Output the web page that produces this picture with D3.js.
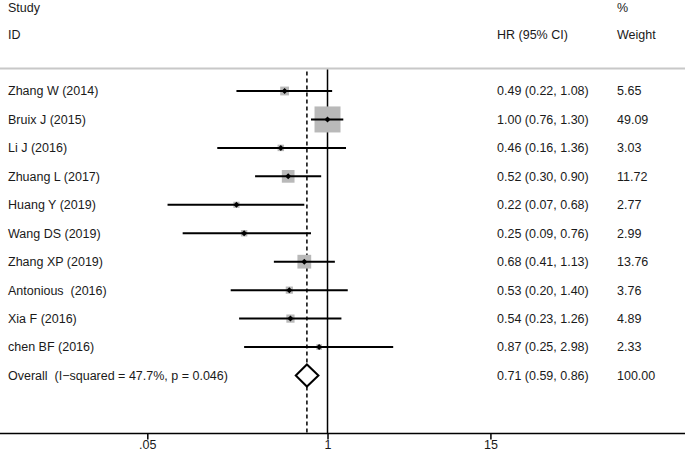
<!DOCTYPE html>
<html>
<head>
<meta charset="utf-8">
<script src="https://cdn.jsdelivr.net/npm/d3@7"></script>
<style>
  body { margin: 0; background: #fff; }
  svg text { font-family: "Liberation Sans", Arial, sans-serif; font-size: 12.5px; fill: #1a1a1a; white-space: pre; }
</style>
</head>
<body>
<svg id="chart" width="685" height="453"></svg>
<script>
// study data
var studies = ['Zhang W (2014)', 'Bruix J (2015)', 'Li J (2016)', 'Zhuang L (2017)', 'Huang Y (2019)',
  'Wang DS (2019)', 'Zhang XP (2019)', 'Antonious  (2016)', 'Xia F (2016)', 'chen BF (2016)'];
var hr     = [0.49, 1.00, 0.46, 0.52, 0.22, 0.25, 0.68, 0.53, 0.54, 0.87];
var lower  = [0.22, 0.76, 0.16, 0.30, 0.07, 0.09, 0.41, 0.20, 0.23, 0.25];
var upper  = [1.08, 1.30, 1.36, 0.90, 0.68, 0.76, 1.13, 1.40, 1.26, 2.98];
var weight = [5.65, 49.09, 3.03, 11.72, 2.77, 2.99, 13.76, 3.76, 4.89, 2.33];

var overallLabel = 'Overall  (I\u2212squared = 47.7%, p = 0.046)';
var overall = { hr: 0.71, lo: 0.59, hi: 0.86, w: 100.00 };

var xTicks = [0.05, 1, 15];
var xTickLabels = ['.05', '1', '15'];

const width = 685, height = 453;
const svg = d3.select('#chart');

// log scale, 1 sits at x ~ 327.5
const x = d3.scaleLog()
    .domain([0.00432, 381])
    .range([0, width]);

const rows = studies.map((s, i) => ({ name: s, hr: hr[i], lo: lower[i], hi: upper[i], w: weight[i] }));
const y = d3.scalePoint()
    .domain(d3.range(rows.length + 1))
    .range([91, 375.5]);

const axisY = 433.5, topLine = 68.5;
const fmt = d3.format('.2f');
const maxW = d3.max(weight);
const boxSide = w => 26 * Math.sqrt(w / maxW);

// headers
svg.append('text').attr('x', 8).attr('y', 12).text('Study');
svg.append('text').attr('x', 8).attr('y', 39).text('ID');
svg.append('text').attr('x', 497).attr('y', 39).text('HR (95% CI)');
svg.append('text').attr('x', 617).attr('y', 12).text('%');
svg.append('text').attr('x', 617).attr('y', 39).text('Weight');

// separator line
svg.append('line')
    .attr('x1', 0).attr('x2', width)
    .attr('y1', topLine).attr('y2', topLine)
    .attr('stroke', '#c8c8c8').attr('stroke-width', 2);

// null line
svg.append('line')
    .attr('x1', x(1)).attr('x2', x(1))
    .attr('y1', topLine + 1).attr('y2', axisY)
    .attr('stroke', '#000').attr('stroke-width', 1.5);

// overall dashed line
svg.append('line')
    .attr('x1', x(overall.hr)).attr('x2', x(overall.hr))
    .attr('y1', topLine + 3).attr('y2', axisY)
    .attr('stroke', '#000').attr('stroke-width', 1.5)
    .attr('stroke-dasharray', '4,3');

// weight boxes
svg.selectAll('.box')
    .data(rows)
    .join('rect')
    .attr('class', 'box')
    .attr('x', d => x(d.hr) - boxSide(d.w) / 2)
    .attr('y', (d, i) => y(i) - boxSide(d.w) / 2)
    .attr('width', d => boxSide(d.w))
    .attr('height', d => boxSide(d.w))
    .attr('fill', '#b9b9b9');

// CI lines
svg.selectAll('.ci')
    .data(rows)
    .join('line')
    .attr('class', 'ci')
    .attr('x1', d => x(d.lo)).attr('x2', d => x(d.hi))
    .attr('y1', (d, i) => y(i)).attr('y2', (d, i) => y(i))
    .attr('stroke', '#000').attr('stroke-width', 2);

// point estimates
svg.selectAll('.pt')
    .data(rows)
    .join('path')
    .attr('class', 'pt')
    .attr('d', (d, i) => {
        const cx = x(d.hr), cy = y(i), r = 3;
        return `M${cx},${cy - r}L${cx + r},${cy}L${cx},${cy + r}L${cx - r},${cy}Z`;
    })
    .attr('fill', '#000');

// overall diamond
const oy = y(rows.length);
svg.append('path')
    .attr('d', `M${x(overall.lo)},${oy}L${x(overall.hr)},${oy - 11}L${x(overall.hi)},${oy}L${x(overall.hr)},${oy + 11}Z`)
    .attr('fill', '#fff').attr('stroke', '#000').attr('stroke-width', 2);

// row labels
const labels = rows.map(d => ({ name: d.name, ci: `${fmt(d.hr)} (${fmt(d.lo)}, ${fmt(d.hi)})`, w: fmt(d.w) }));
labels.push({ name: overallLabel, ci: `${fmt(overall.hr)} (${fmt(overall.lo)}, ${fmt(overall.hi)})`, w: fmt(overall.w) });

const lab = svg.selectAll('.lab')
    .data(labels)
    .join('g')
    .attr('class', 'lab')
    .attr('transform', (d, i) => `translate(0, ${y(i)})`);
lab.append('text').attr('x', 8).attr('dy', '0.35em').text(d => d.name);
lab.append('text').attr('x', 497).attr('dy', '0.35em').text(d => d.ci);
lab.append('text').attr('x', 617).attr('dy', '0.35em').text(d => d.w);

// x axis
const xAxis = d3.axisBottom(x)
    .tickValues(xTicks)
    .tickFormat((d, i) => xTickLabels[i])
    .tickSize(6)
    .tickPadding(1);

const gx = svg.append('g')
    .attr('transform', `translate(0, ${axisY})`)
    .call(xAxis);
gx.select('.domain').attr('d', `M0,0H${width}`).attr('stroke', '#000').attr('stroke-width', 1.5);
gx.selectAll('.tick line').attr('stroke', '#000').attr('stroke-width', 1.5);
gx.selectAll('.tick text')
    .style('font-family', '"Liberation Sans", Arial, sans-serif')
    .style('font-size', '12.5px')
    .attr('fill', '#1a1a1a');
</script>
</body>
</html>
